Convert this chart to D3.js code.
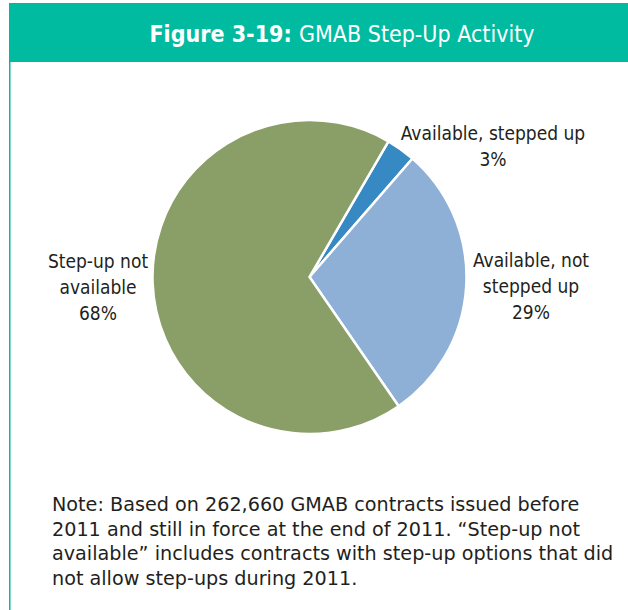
<!DOCTYPE html>
<html>
<head>
<meta charset="utf-8">
<script src="https://cdn.jsdelivr.net/npm/d3@7"></script>
<style>
  body { margin: 0; background: #fff; }
  .cond { font-family: "DejaVu Sans Condensed", sans-serif; font-stretch: condensed; }
  .note { font-family: "DejaVu Sans", sans-serif; }
</style>
</head>
<body>
<svg width="628" height="610"></svg>
<script>
const width = 628;
const height = 610;

// 数据
const categories = ["Available, stepped up", "Available, not stepped up", "Step-up not available"];
const values = [3, 29, 68];
const labelLines = [
    ["Available, stepped up", "3%"],
    ["Available, not", "stepped up", "29%"],
    ["Step-up not", "available", "68%"]
];
const colors = ["#3689C2", "#8EAFD6", "#8A9E67"];
const noteLines = [
    "Note: Based on 262,660 GMAB contracts issued before",
    "2011 and still in force at the end of 2011. \u201CStep-up not",
    "available\u201D includes contracts with step-up options that did",
    "not allow step-ups during 2011."
];

const teal = "#00BB9F";
const svg = d3.select("svg");

// 标题栏
svg.append("rect")
    .attr("x", 9).attr("y", 3)
    .attr("width", width - 9).attr("height", 59)
    .attr("fill", teal);

// 左边框
svg.append("rect")
    .attr("x", 9).attr("y", 62)
    .attr("width", 1.5).attr("height", height - 62)
    .attr("fill", teal);

const title = svg.append("text")
    .attr("class", "cond")
    .attr("x", 342).attr("y", 42)
    .attr("text-anchor", "middle")
    .attr("fill", "#fff")
    .attr("font-size", 23);
title.append("tspan").attr("font-weight", "bold").text("Figure 3-19: ");
title.append("tspan").text("GMAB Step-Up Activity");

// 饼图
const cx = 309.5, cy = 277, r = 157;
const startA = 30.2 * Math.PI / 180;
const pie = d3.pie().sort(null).startAngle(startA).endAngle(startA + 2 * Math.PI);
const arc = d3.arc().innerRadius(0).outerRadius(r);

const g = svg.append("g").attr("transform", `translate(${cx},${cy})`);
g.selectAll("path")
    .data(pie(values))
    .enter()
    .append("path")
    .attr("d", arc)
    .attr("fill", (d, i) => colors[i])
    .attr("stroke", "#fff")
    .attr("stroke-width", 2.5)
    .attr("stroke-linejoin", "miter");

// 标签位置
const labelPos = [[493, 140], [531, 267], [98, 268]];
const lineH = 26;
labelLines.forEach((lines, i) => {
    const t = svg.append("text")
        .attr("class", "cond")
        .attr("text-anchor", "middle")
        .attr("fill", "#231F20")
        .attr("font-size", 19);
    lines.forEach((s, j) => {
        t.append("tspan")
            .attr("x", labelPos[i][0])
            .attr("y", labelPos[i][1] + j * lineH)
            .text(s);
    });
});

// 注释
const note = svg.append("text")
    .attr("class", "note")
    .attr("fill", "#231F20")
    .attr("font-size", 19.2);
noteLines.forEach((s, j) => {
    note.append("tspan")
        .attr("x", 52)
        .attr("y", 511 + j * 24.5)
        .text(s);
});
</script>
</body>
</html>
